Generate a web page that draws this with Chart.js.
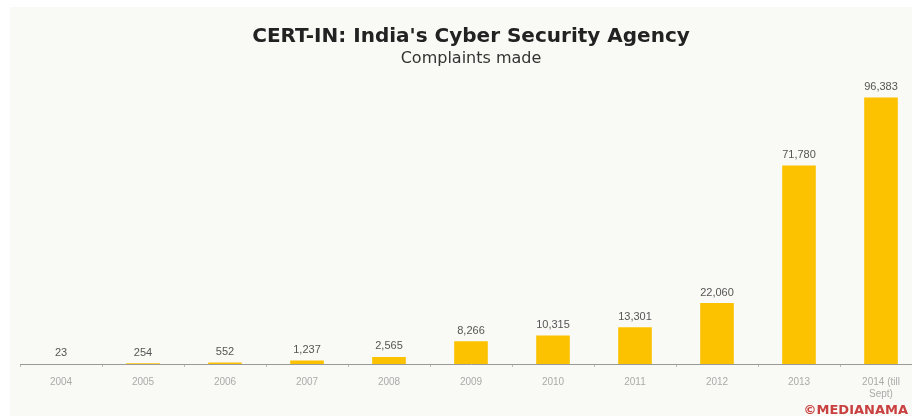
<!DOCTYPE html>
<html>
<head>
<meta charset="utf-8">
<script src="https://cdn.jsdelivr.net/npm/chart.js@4/dist/chart.umd.min.js"></script>
<style>
  html, body { margin: 0; padding: 0; background: #fff; }
  #wrap { width: 912px; height: 416px; overflow: hidden; }
  #box { width: 924px; height: 416px; }
</style>
</head>
<body>
<div id="wrap"><div id="box"><canvas id="certChart"></canvas></div></div>
<script>
// CERT-IN complaints per year
const years = ['2004', '2005', '2006', '2007', '2008', '2009', '2010', '2011', '2012', '2013', ['2014 (till', 'Sept)']];
const complaints = [23, 254, 552, 1237, 2565, 8266, 10315, 13301, 22060, 71780, 96383];

// soft off-white panel behind the chart
const panelBg = {
    id: 'panelBg',
    beforeDraw(chart) {
        const ctx = chart.ctx;
        ctx.save();
        ctx.fillStyle = '#f9f9f5';
        ctx.fillRect(10, 7, chart.width - 10, chart.height - 7);
        ctx.restore();
    }
};

// value labels on top of each bar + credit line
const barValues = {
    id: 'barValues',
    afterDatasetsDraw(chart) {
        const ctx = chart.ctx;
        const meta = chart.getDatasetMeta(0);
        ctx.save();
        ctx.font = '11px "Liberation Sans", Arial, sans-serif';
        ctx.fillStyle = '#555';
        ctx.textAlign = 'center';
        ctx.textBaseline = 'bottom';
        meta.data.forEach((bar, i) => {
            ctx.fillText(complaints[i].toLocaleString('en-US'), bar.x, bar.y - 5);
        });
        ctx.font = 'bold 13px "DejaVu Sans", sans-serif';
        ctx.fillStyle = '#c94040';
        ctx.textAlign = 'right';
        ctx.textBaseline = 'alphabetic';
        ctx.fillText('\u00A9MEDIANAMA', 908, 414);
        ctx.restore();
    }
};

new Chart(document.getElementById('certChart'), {
    type: 'bar',
    data: {
        labels: years,
        datasets: [{
            data: complaints,
            backgroundColor: '#fcc200',
            borderWidth: 0,
            barPercentage: 0.41,
            categoryPercentage: 1
        }]
    },
    options: {
        responsive: true,
        maintainAspectRatio: false,
        animation: false,
        layout: { padding: { left: 20, right: 2, top: 0, bottom: 7 } },
        plugins: {
            legend: { display: false },
            tooltip: { enabled: false },
            title: {
                display: true,
                text: "CERT-IN: India's Cyber Security Agency",
                color: '#222',
                font: { family: '"DejaVu Sans", sans-serif', size: 20, weight: 'bold' },
                padding: { top: 25, bottom: 0 }
            },
            subtitle: {
                display: true,
                text: 'Complaints made',
                color: '#333',
                font: { family: '"DejaVu Sans", sans-serif', size: 16 },
                padding: { top: 0, bottom: 11 }
            }
        },
        scales: {
            x: {
                border: { color: '#999', width: 1 },
                grid: { display: true, drawOnChartArea: false, tickLength: 3, color: '#bbb', offset: true },
                ticks: {
                    color: '#aaa',
                    padding: 9,
                    maxRotation: 0,
                    font: { family: '"Liberation Sans", Arial, sans-serif', size: 10 }
                }
            },
            y: {
                display: false,
                min: 0,
                max: 103000
            }
        }
    },
    plugins: [panelBg, barValues]
});
</script>
</body>
</html>
